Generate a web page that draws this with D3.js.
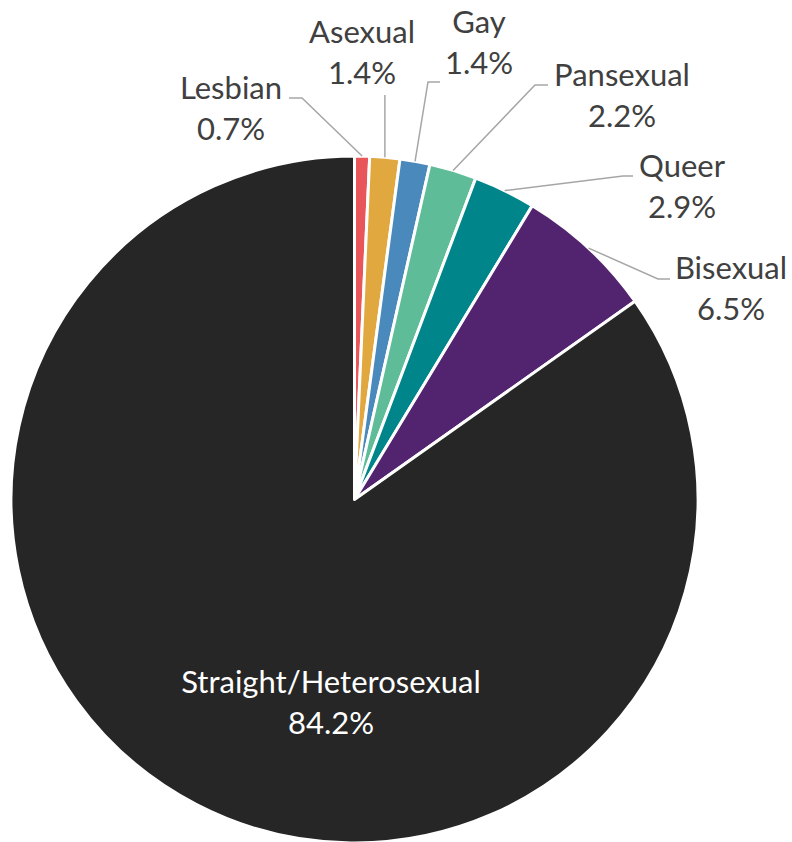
<!DOCTYPE html>
<html>
<head>
<meta charset="utf-8">
<script src="https://cdn.jsdelivr.net/npm/d3@7"></script>
<style>
  body { margin: 0; background: #fff; }
  text { font-family: Lato, "Open Sans", sans-serif; }
</style>
</head>
<body>
<div id="chart"></div>
<script>
// data
const categories = ["Lesbian", "Asexual", "Gay", "Pansexual", "Queer", "Bisexual", "Straight/Heterosexual"];
const values = [0.7, 1.4, 1.4, 2.2, 2.9, 6.5, 84.2];
const valueLabels = ["0.7%", "1.4%", "1.4%", "2.2%", "2.9%", "6.5%", "84.2%"];
const colors = ["#e8565a", "#e2a840", "#4a89bc", "#5ebc98", "#00858a", "#52236f", "#262626"];

// label placement (center x, first baseline y) and leader elbow / end
const labelLayout = [
  {x: 231, y: 99,  elbow: [302, 98],  end: [289, 98]},
  {x: 362, y: 43,  elbow: null,       end: [386, 95]},
  {x: 479, y: 33,  elbow: [428, 82],  end: [440, 82]},
  {x: 622, y: 86,  elbow: [535, 85],  end: [548, 85]},
  {x: 682, y: 177, elbow: [623, 176], end: [633, 176]},
  {x: 731, y: 279, elbow: [658, 279], end: [670, 279]},
  {x: 331, y: 693, inside: true}
];

var width = 792, height = 842;
var cx = 354.5, cy = 499.5, radius = 343.5;
var lineGap = 41;

var svg = d3.select("#chart").append("svg")
    .attr("width", width)
    .attr("height", height);

var pie = d3.pie().sort(null).value(function(d) { return d; });
var arcs = pie(values);

var arc = d3.arc().innerRadius(0).outerRadius(radius);

var g = svg.append("g")
    .attr("transform", "translate(" + cx + "," + cy + ")");

g.selectAll("path.slice")
  .data(arcs)
  .enter().append("path")
    .attr("class", "slice")
    .attr("d", arc)
    .attr("fill", function(d, i) { return colors[i]; })
    .attr("stroke", "#fff")
    .attr("stroke-width", 3)
    .attr("stroke-linejoin", "round");

// leader lines: from slice edge at mid angle to the label
arcs.forEach(function(d, i) {
  var lay = labelLayout[i];
  if (lay.inside) return;
  var a = (d.startAngle + d.endAngle) / 2;
  var p0 = [cx + radius * Math.sin(a), cy - radius * Math.cos(a)];
  var pts = [p0];
  if (lay.elbow) pts.push(lay.elbow);
  else pts.push([p0[0], lay.end[1]]);
  if (lay.elbow) pts.push(lay.end);
  svg.append("path")
    .attr("d", d3.line()(pts))
    .attr("fill", "none")
    .attr("stroke", "#a6a6a6")
    .attr("stroke-width", 1.5);
});

// labels
categories.forEach(function(c, i) {
  var lay = labelLayout[i];
  var t = svg.append("text")
    .attr("text-anchor", "middle")
    .attr("font-size", 31)
    .attr("fill", lay.inside ? "#ffffff" : "#404040");
  t.append("tspan").attr("x", lay.x).attr("y", lay.y).text(c);
  t.append("tspan").attr("x", lay.x).attr("y", lay.y + lineGap).text(valueLabels[i]);
});
</script>
</body>
</html>
